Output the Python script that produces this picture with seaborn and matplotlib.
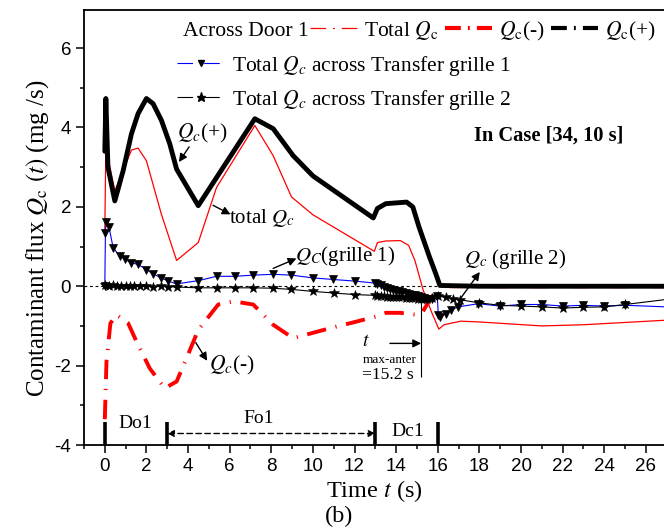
import matplotlib
matplotlib.use("Agg")
import matplotlib.pyplot as plt
import seaborn as sns
import pandas as pd
from matplotlib.lines import Line2D
from matplotlib.ticker import MultipleLocator

# ---------------- data ----------------
t_plus = [0.0, 0.05, 0.15, 0.48, 0.88, 1.28, 1.6, 2.0, 2.32, 2.72, 3.12, 3.45, 4.49,
          7.21, 8.09, 9.05, 10.0, 12.9, 13.1, 13.5, 14.5, 14.8, 15.1, 15.6, 15.9,
          16.1, 18.0, 20.0, 22.0, 24.0, 26.0, 27.5]
q_plus = [3.4, 4.73, 3.0, 2.15, 2.91, 3.84, 4.35, 4.73, 4.6, 4.18, 3.59, 2.95, 2.03,
          4.22, 3.97, 3.29, 2.78, 1.72, 1.96, 2.08, 2.12, 2.0, 1.49, 0.74, 0.32,
          0.02, 0.0, 0.0, 0.0, 0.0, 0.0, 0.0]

t_total = [0.0, 0.05, 0.48, 1.28, 1.6, 2.0, 2.72, 3.45, 4.49, 5.37, 7.21, 8.09, 8.97,
           10.0, 12.95, 13.1, 13.5, 14.2, 14.6, 14.9, 15.3, 15.7, 16.05, 16.3, 17.1,
           18.0, 21.0, 23.0, 27.5]
q_total = [1.4, 3.5, 2.4, 3.43, 3.48, 3.16, 1.81, 0.65, 1.1, 2.49, 4.05, 3.29, 2.25,
           1.8, 0.88, 1.1, 1.14, 1.15, 1.03, 0.65, -0.1, -0.65, -1.08, -0.97, -0.88,
           -0.9, -1.0, -0.97, -0.84]

t_minus = [0.0, 0.08, 0.27, 0.56, 1.12, 1.52, 2.16, 2.88, 3.45, 3.93, 4.49, 5.45, 6.17,
           7.13, 8.09, 9.05, 10.8, 12.1, 13.06, 13.5, 14.2, 15.0, 15.25, 15.6, 16.1,
           18.0, 21.0, 24.0, 27.5]
q_minus = [-3.35, -1.9, -0.93, -0.72, -0.93, -1.39, -2.07, -2.57, -2.4, -1.81, -1.1,
           -0.46, -0.38, -0.46, -0.97, -1.31, -1.06, -0.89, -0.76, -0.67, -0.67, -0.72,
           -0.67, -0.35, 0.0, 0.0, 0.0, 0.0, 0.0]

t_g1 = [0.0, 0.03, 0.06, 0.2, 0.4, 0.72, 0.96, 1.28, 1.6, 2.0, 2.32, 2.72, 3.04, 3.45,
        4.49, 5.37, 6.25, 7.13, 8.09, 8.97, 10.0, 10.98, 12.0, 12.98, 13.1, 13.25, 13.4,
        13.55, 13.7, 13.85, 14.0, 14.15, 14.3, 14.45, 14.6, 14.75, 14.9, 15.05, 15.2,
        15.35, 15.5, 15.7, 15.98, 16.02, 16.1, 16.4, 16.65, 16.97, 17.95, 19.0, 20.0,
        21.0, 22.0, 23.0, 24.0, 25.0, 27.5]
q_g1 = [0.0, 1.35, 1.62, 1.5, 0.97, 0.76, 0.68, 0.59, 0.55, 0.42, 0.31, 0.21, 0.13, 0.06,
        0.14, 0.25, 0.25, 0.28, 0.3, 0.28, 0.21, 0.17, 0.13, 0.08, 0.05, 0.02, -0.01,
        -0.04, -0.06, -0.09, -0.11, -0.13, -0.15, -0.17, -0.19, -0.21, -0.23, -0.25, -0.27,
        -0.29, -0.31, -0.33, -0.25, -0.72, -0.77, -0.69, -0.6, -0.52, -0.44, -0.5, -0.46,
        -0.46, -0.5, -0.48, -0.5, -0.48, -0.53]

t_g2 = [0.0, 0.2, 0.4, 0.6, 0.8, 1.0, 1.2, 1.4, 1.7, 2.0, 2.3, 2.7, 3.05, 3.45, 4.49,
        5.37, 6.25, 7.13, 8.09, 8.97, 10.0, 11.0, 12.0, 13.0, 13.1, 13.25, 13.4, 13.55,
        13.7, 13.85, 14.0, 14.15, 14.3, 14.45, 14.6, 14.75, 14.9, 15.05, 15.2, 15.35,
        15.5, 15.7, 16.0, 16.4, 16.74, 17.07, 18.0, 19.0, 20.0, 21.0, 22.0, 23.0, 24.0,
        25.0, 27.5]
q_g2 = [0.02, 0.01, 0.02, 0.01, 0.01, 0.0, 0.01, 0.0, 0.0, 0.0, -0.01, 0.0, -0.01, -0.02,
        -0.04, -0.04, -0.04, -0.04, -0.05, -0.08, -0.13, -0.17, -0.21, -0.23, -0.24, -0.25,
        -0.25, -0.26, -0.26, -0.27, -0.27, -0.28, -0.28, -0.29, -0.29, -0.3, -0.3, -0.31,
        -0.31, -0.32, -0.33, -0.3, -0.25, -0.28, -0.31, -0.34, -0.42, -0.48, -0.5, -0.52,
        -0.55, -0.53, -0.52, -0.46, -0.3]

phase_times = [0, 3, 13, 16]
phase_names = ["Do1", "Fo1", "Dc1"]
x_ticks = list(range(0, 27, 2))
y_ticks = [-4, -2, 0, 2, 4, 6]

# ---------------- style ----------------
sns.set_style("ticks", {"axes.edgecolor": "black", "xtick.color": "black",
                        "ytick.color": "black", "text.color": "black",
                        "axes.labelcolor": "black"})
plt.rcParams['font.family'] = ['Liberation Serif', 'DejaVu Serif']
plt.rcParams['mathtext.fontset'] = 'stix'
plt.rcParams['axes.unicode_minus'] = False

fig = plt.figure(figsize=(6.64, 5.28), dpi=100)
ax = fig.add_axes([84 / 664, 83 / 528, 580 / 664, 435 / 528])

RED = "#ff0000"
BLUE = "#0000ff"

ax.axhline(0, color="black", lw=0.8, ls=(0, (2.5, 2.5)), zorder=1)

sns.lineplot(x=t_minus, y=q_minus, ax=ax, color=RED, lw=2.8,
             linestyle=(0, (5, 2.5, 0.3, 2.5)), estimator=None, sort=False, zorder=2)
sns.lineplot(x=t_total, y=q_total, ax=ax, color=RED, lw=0.9,
             estimator=None, sort=False, zorder=3)
sns.lineplot(x=t_plus, y=q_plus, ax=ax, color="black", lw=3.5,
             estimator=None, sort=False, zorder=4)
sns.lineplot(x=t_g1, y=q_g1, ax=ax, color=BLUE, lw=0.8, marker="v", markersize=6,
             markerfacecolor="black", markeredgecolor="black", markeredgewidth=0.5,
             estimator=None, sort=False, zorder=5)
sns.lineplot(x=t_g2, y=q_g2, ax=ax, color="black", lw=0.8, marker="*", markersize=7.5,
             markerfacecolor="black", markeredgecolor="black", markeredgewidth=0.4,
             estimator=None, sort=False, zorder=6)

# axes
ax.set_xlim(-1.0, 26.87)
ax.set_ylim(-4, 6.96)
ax.set_xticks(x_ticks)
ax.set_yticks(y_ticks)
ax.xaxis.set_minor_locator(MultipleLocator(1))
ax.yaxis.set_minor_locator(MultipleLocator(1))
ax.tick_params(which="major", direction="out", length=5.8, width=1.1, labelsize=13.5,
               pad=3.5, labelfontfamily="Liberation Sans")
ax.tick_params(which="minor", direction="out", length=3.0, width=1.1)
ax.tick_params(top=False, right=False)
for s in ["left", "bottom", "top"]:
    ax.spines[s].set_linewidth(1.3)
ax.spines["right"].set_visible(False)

ax.set_xlabel("Time $t$ (s)", fontsize=17.5, labelpad=2)
ax.set_ylabel(r"Contaminant flux $Q_\mathrm{c}$ $(t)$ (mg /s)", fontsize=18, va="center")
ax.yaxis.set_label_coords(-0.08, 0.475)
fig.text(339 / 664, 1 - 516 / 528, "(b)", fontsize=17.5, ha="center", va="center")

# phase bars
ax.vlines(phase_times, -4, -3.43, color="black", lw=2.6, zorder=7)
ax.text(1.44, -3.47, phase_names[0], fontsize=14, ha="center", va="center")
ax.text(7.37, -3.34, phase_names[1], fontsize=14, ha="center", va="center")
ax.text(14.54, -3.65, phase_names[2], fontsize=14, ha="center", va="center")
ax.annotate("", xy=(13, -3.71), xytext=(3, -3.71),
            arrowprops=dict(arrowstyle="<|-|>", ls=(0, (4, 2.5)), lw=1.0, color="black",
                            shrinkA=0, shrinkB=0, mutation_scale=10))

# annotations
arrow = dict(arrowstyle="-|>", color="black", lw=1.0, shrinkA=0, shrinkB=0,
             mutation_scale=12)
ax.text(4.69, 3.85, "$Q_c$(+)", fontsize=15.5, ha="center", va="center")
ax.annotate("", xy=(3.56, 3.13), xytext=(4.05, 3.51), arrowprops=arrow)
ax.text(7.52, 1.73, "total $Q_c$", fontsize=15, ha="center", va="center")
ax.annotate("", xy=(6.04, 1.81), xytext=(5.2, 2.04), arrowprops=arrow)
ax.text(11.57, 0.76, "$Q_C$(grille 1)", fontsize=15, ha="center", va="center")
ax.annotate("", xy=(9.21, 0.70), xytext=(8.09, 0.45), arrowprops=arrow)
ax.text(19.70, 0.68, "$Q_c$ (grille 2)", fontsize=15, ha="center", va="center")
ax.annotate("", xy=(18.02, 0.36), xytext=(17.06, -0.33), arrowprops=arrow)
ax.text(6.13, -1.99, "$Q_c$(-)", fontsize=15.5, ha="center", va="center")
ax.annotate("", xy=(4.92, -1.88), xytext=(4.37, -1.42), arrowprops=arrow)
ax.text(21.34, 3.80, "In Case [34, 10 s]", fontsize=14.8, fontweight="bold",
        ha="center", va="center")

# t_max-anter marker
ax.vlines([15.2], -2.28, -0.15, color="black", lw=0.8, zorder=7)
ax.annotate("", xy=(15.2, -1.44), xytext=(13.7, -1.44), arrowprops=arrow)
ax.text(12.54, -1.40, "$t$", fontsize=14, ha="center", va="center")
ax.text(12.4, -1.86, "max-anter", fontsize=9.5, ha="left", va="center")
ax.text(12.35, -2.24, "=15.2 s", fontsize=12.6, ha="left", va="center")

# legend
fig.text(183 / 664, 1 - 31 / 528, "Across Door 1", fontsize=15.5, ha="left", va="center")
h_tot = Line2D([], [], color=RED, lw=0.9, dashes=(12.5, 5.5, 1.5, 5.5))
h_min = Line2D([], [], color=RED, lw=3.0, dashes=(3.8, 1.7, 0.45, 1.7))
h_plu = Line2D([], [], color="black", lw=3.0, dashes=(3.8, 1.7, 0.45, 1.7))
leg1 = fig.legend([h_tot, h_min, h_plu],
                  [r"Total $Q_\mathrm{c}$", r"$Q_\mathrm{c}$(-)", r"$Q_\mathrm{c}$(+)"],
                  loc="upper left", bbox_to_anchor=(310 / 664, 1 - 19 / 528), ncol=3,
                  frameon=False, fontsize=15.5, handlelength=2.2, handletextpad=0.3,
                  columnspacing=0.3, borderpad=0, borderaxespad=0)
h_g1 = Line2D([], [], color=BLUE, lw=0.8, dashes=(14, 10), marker="v", markersize=5,
              markerfacecolor="black", markeredgecolor="black")
h_g2 = Line2D([], [], color="black", lw=0.8, dashes=(14, 10), marker="*", markersize=6.5,
              markerfacecolor="black", markeredgecolor="black")
leg2 = fig.legend([h_g1, h_g2],
                  ["Total $Q_c$ across Transfer grille 1",
                   "Total $Q_c$ across Transfer grille 2"],
                  loc="upper left", bbox_to_anchor=(177 / 664, 1 - 54 / 528), ncol=1,
                  frameon=False, fontsize=15.5, handlelength=2.2, handletextpad=0.35,
                  labelspacing=0.45, borderpad=0, borderaxespad=0, numpoints=1)

fig.savefig("out.png", dpi=100)
